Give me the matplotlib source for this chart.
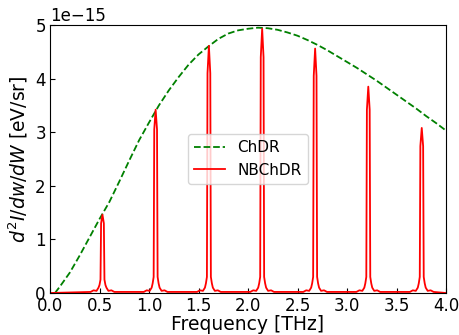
import numpy as np
import matplotlib
matplotlib.use("Agg")
import matplotlib.pyplot as plt

# ChDR curve (units of 1e-15 eV/sr)
chdr_x = [0.05, 0.1, 0.2, 0.3, 0.4, 0.5, 0.6, 0.7, 0.8, 0.9, 1.0, 1.1, 1.2, 1.3,
          1.4, 1.5, 1.6, 1.7, 1.8, 1.9, 2.0, 2.1, 2.2, 2.3, 2.4, 2.5, 2.6, 2.7,
          2.8, 2.9, 3.0, 3.1, 3.2, 3.3, 3.4, 3.5, 3.6, 3.7, 3.8, 3.9, 4.0]
chdr_y = [0.0, 0.12, 0.38, 0.70, 1.04, 1.38, 1.70, 2.08, 2.47, 2.85, 3.18, 3.50,
          3.78, 4.03, 4.26, 4.45, 4.60, 4.74, 4.84, 4.90, 4.93, 4.95, 4.94, 4.91,
          4.86, 4.80, 4.72, 4.63, 4.53, 4.42, 4.31, 4.20, 4.08, 3.96, 3.83, 3.70,
          3.57, 3.44, 3.30, 3.17, 3.03]

# NBChDR peaks: centres and samples around each centre
nb_centers = [0.530, 1.067, 1.605, 2.143, 2.678, 3.215, 3.755]
nb_offsets = [-0.12, -0.09, -0.06, -0.04, -0.03, -0.02, -0.014, 0.0,
              0.014, 0.02, 0.03, 0.04, 0.06, 0.09, 0.12]
nb_peaks = [
    [0.02, 0.05, 0.04, 0.10, 0.15, 0.25, 1.30, 1.46, 1.30, 0.25, 0.15, 0.10, 0.04, 0.05, 0.02],
    [0.02, 0.05, 0.04, 0.10, 0.18, 0.30, 3.05, 3.42, 3.05, 0.30, 0.18, 0.10, 0.04, 0.05, 0.02],
    [0.02, 0.05, 0.04, 0.10, 0.18, 0.30, 4.10, 4.61, 4.10, 0.30, 0.18, 0.10, 0.04, 0.05, 0.02],
    [0.02, 0.05, 0.04, 0.10, 0.18, 0.30, 4.40, 4.93, 4.40, 0.30, 0.18, 0.10, 0.04, 0.05, 0.02],
    [0.02, 0.05, 0.04, 0.10, 0.18, 0.30, 4.05, 4.56, 4.05, 0.30, 0.18, 0.10, 0.04, 0.05, 0.02],
    [0.02, 0.05, 0.04, 0.10, 0.18, 0.30, 3.42, 3.85, 3.42, 0.30, 0.18, 0.10, 0.04, 0.05, 0.02],
    [0.02, 0.05, 0.04, 0.10, 0.18, 0.30, 2.74, 3.08, 2.74, 0.30, 0.18, 0.10, 0.04, 0.05, 0.02],
]

nb_x = [0.0]
nb_y = [0.0]
for c, ys in zip(nb_centers, nb_peaks):
    for o, v in zip(nb_offsets, ys):
        nb_x.append(c + o)
        nb_y.append(v)
nb_x.append(4.0)
nb_y.append(0.0)

fig = plt.figure(figsize=(4.6, 3.35), dpi=100)
ax = fig.add_axes([50 / 460, 1 - 293 / 335, 396 / 460, 268 / 335])

ax.plot(chdr_x, np.array(chdr_y) * 1e-15, 'g--', lw=1.3, label='ChDR')
ax.plot(nb_x, np.array(nb_y) * 1e-15, 'r', lw=1.3, label='NBChDR')

ax.set_xlim(0, 4.0)
ax.set_ylim(0, 5e-15)
ax.set_xticks([0.0, 0.5, 1.0, 1.5, 2.0, 2.5, 3.0, 3.5, 4.0])
ax.tick_params(direction='in', labelsize=12, pad=3)
ax.yaxis.get_offset_text().set_fontsize(12)
ax.set_xlabel('Frequency [THz]', fontsize=13.5, labelpad=0)
ax.set_ylabel(r'$d^2I/dw/dW$ [eV/sr]', fontsize=13.5, labelpad=4)
ax.legend(loc='center', fontsize=11)

fig.savefig('out.png', dpi=100)
